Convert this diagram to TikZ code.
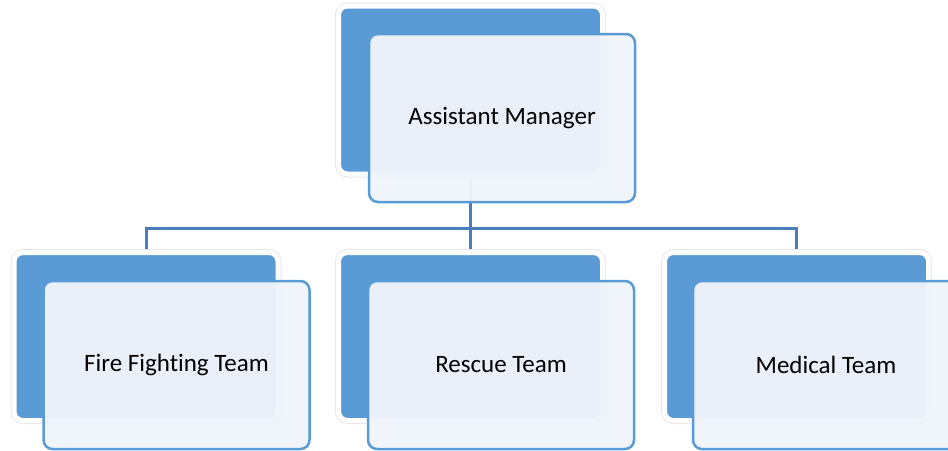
\documentclass[tikz,border=0pt]{standalone}
\usepackage{fontspec}
\setmainfont{Carlito}[Ligatures={NoCommon}]
\usetikzlibrary{backgrounds}
\definecolor{boxblue}{RGB}{91,155,213}
\definecolor{linkblue}{RGB}{74,126,187}
\definecolor{paleblue}{RGB}{239,244,251}
\begin{document}
\begin{tikzpicture}[x=1pt,y=-1pt,
  backbox/.style={rectangle, rounded corners=9pt, fill=boxblue, draw=white, line width=5pt,
    minimum width=264pt, minimum height=168pt, inner sep=0pt,
    preaction={draw=black!9, line width=7pt}},
  frontbox/.style={rectangle, rounded corners=9pt, fill=paleblue, fill opacity=.96, text opacity=1,
    draw=boxblue, line width=2.5pt, minimum width=266pt, minimum height=168pt, inner sep=0pt,
    font=\fontsize{25}{30}\selectfont},
  link/.style={draw=linkblue, line width=3pt}]
\useasboundingbox (0,0) rectangle (948,450);
\node (amback) at (470.5,90) [backbox] {};
\node (ffback) at (146,336.5) [backbox] {};
\node (rtback) at (470.5,336.5) [backbox] {};
\node (mtback) at (796.5,336.5) [backbox] {};
\coordinate (bus) at (470.5,228);

\begin{scope}[on background layer]
\draw[link]
(amback.south) -- (bus)
(bus) -- (rtback.north)
(ffback.north) |- (bus)
(mtback.north) |- (bus);
\end{scope}

\node (am) at (502,118) [frontbox] {Assistant Manager};
\node (ff) at (176.5,365) [frontbox] {Fire Fighting Team};
\node (rt) at (501,365) [frontbox] {Rescue Team};
\node (mt) at (826,365) [frontbox] {Medical Team};
\end{tikzpicture}
\end{document}
